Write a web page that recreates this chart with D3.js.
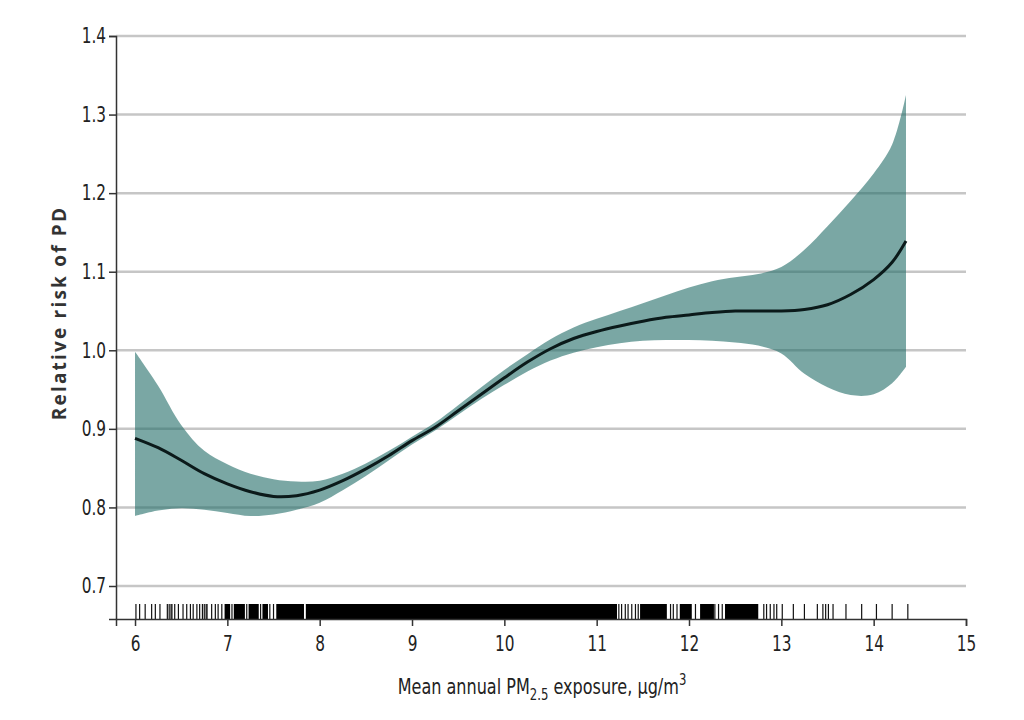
<!DOCTYPE html>
<html>
<head>
<meta charset="utf-8">
<script src="https://cdn.jsdelivr.net/npm/d3@7"></script>
<style>
  body { margin: 0; background: #fff; }
  svg { display: block; }
</style>
</head>
<body>
<svg id="chart" width="1024" height="720"></svg>
<script>
// exposure values (ug/m3) where the spline was read
const exposure = [6.0, 6.25, 6.5, 6.75, 7.0, 7.25, 7.5, 7.75, 8.0, 8.25, 8.5, 8.75, 9.0, 9.25, 9.5, 9.75,
  10.0, 10.25, 10.5, 10.75, 11.0, 11.25, 11.5, 11.75, 12.0, 12.25, 12.5, 12.75, 13.0, 13.25, 13.5, 13.75,
  14.0, 14.2, 14.35];
const relRisk = [0.888, 0.876, 0.860, 0.843, 0.830, 0.820, 0.814, 0.815, 0.822, 0.834, 0.849, 0.866, 0.885,
  0.902, 0.923, 0.944, 0.965, 0.985, 1.002, 1.015, 1.024, 1.031, 1.037, 1.042, 1.045, 1.048, 1.050, 1.050,
  1.050, 1.052, 1.058, 1.071, 1.090, 1.112, 1.139];
const upperCI = [0.998, 0.955, 0.905, 0.872, 0.855, 0.843, 0.836, 0.833, 0.834, 0.843, 0.856, 0.872, 0.890,
  0.908, 0.930, 0.953, 0.975, 0.995, 1.014, 1.029, 1.040, 1.050, 1.060, 1.070, 1.080, 1.088, 1.093, 1.097,
  1.106, 1.128, 1.158, 1.190, 1.225, 1.262, 1.325];
const lowerCI = [0.789, 0.796, 0.799, 0.797, 0.793, 0.789, 0.791, 0.797, 0.806, 0.822, 0.840, 0.860, 0.880,
  0.898, 0.918, 0.938, 0.956, 0.973, 0.987, 0.997, 1.004, 1.009, 1.012, 1.013, 1.013, 1.012, 1.010, 1.006,
  0.996, 0.970, 0.953, 0.943, 0.944, 0.958, 0.979];

// rug: single observations and stretches too dense to separate
const rugTicks = [6.01, 6.05, 6.11, 6.18, 6.22, 6.27, 6.35, 6.37, 6.39, 6.40, 6.43, 6.47, 6.52, 6.56, 6.60,
  6.63, 6.67, 6.70, 6.73, 6.75, 6.77, 6.78, 6.83, 6.87, 6.90, 6.94, 7.05, 7.21, 7.36, 7.46, 7.50,
  11.24, 11.27, 11.31, 11.34, 11.38, 11.42, 11.45, 11.80, 11.83, 11.87, 12.07, 12.28, 12.32, 12.36,
  12.81, 12.84, 12.88, 12.92, 12.95, 13.01, 13.13, 13.25, 13.39, 13.45, 13.48, 13.51, 13.56, 13.70,
  13.87, 14.03, 14.20, 14.37];
const rugDenseFrom = [6.97, 7.07, 7.23, 7.38, 7.53, 7.85, 11.47, 11.90, 12.12, 12.39];
const rugDenseTo   = [7.03, 7.19, 7.34, 7.44, 7.83, 11.22, 11.76, 12.03, 12.27, 12.75];

const xTicks = [6, 7, 8, 9, 10, 11, 12, 13, 14, 15];
const yTicks = [0.7, 0.8, 0.9, 1.0, 1.1, 1.2, 1.3, 1.4];

const svg = d3.select("#chart");
const margin = {top: 36, right: 58, bottom: 101, left: 116};
const width = 1024, height = 720;
const tickFont = "'DejaVu Sans', sans-serif";
const squeeze = 0.73; // the original uses a narrow face

const x = d3.scaleLinear().domain([5.794, 15]).range([margin.left, width - margin.right]);
const y = d3.scaleLinear().domain([0.658, 1.4]).range([height - margin.bottom, margin.top]);

const data = exposure.map((e, i) => ({x: e, rr: relRisk[i], lo: lowerCI[i], hi: upperCI[i]}));

// grid lines
svg.append("g")
  .selectAll("line")
  .data(yTicks)
  .join("line")
    .attr("x1", margin.left)
    .attr("x2", width - margin.right)
    .attr("y1", d => y(d))
    .attr("y2", d => y(d))
    .attr("stroke", "#c6c6c6")
    .attr("stroke-width", 2.5);

// confidence band
svg.append("path")
  .datum(data)
  .attr("fill", "#216c67")
  .attr("fill-opacity", 0.6)
  .attr("d", d3.area()
    .curve(d3.curveCatmullRom)
    .x(d => x(d.x))
    .y0(d => y(d.lo))
    .y1(d => y(d.hi)));

// spline
svg.append("path")
  .datum(data)
  .attr("fill", "none")
  .attr("stroke", "#0b1a1a")
  .attr("stroke-width", 3)
  .attr("d", d3.line()
    .curve(d3.curveCatmullRom)
    .x(d => x(d.x))
    .y(d => y(d.rr)));

// rug
const rugTop = height - margin.bottom - 15;
svg.append("g")
  .selectAll("line")
  .data(rugTicks)
  .join("line")
    .attr("x1", d => x(d))
    .attr("x2", d => x(d))
    .attr("y1", rugTop)
    .attr("y2", height - margin.bottom)
    .attr("stroke", "#111")
    .attr("stroke-width", 1.2);
svg.append("g")
  .selectAll("rect")
  .data(rugDenseFrom.map((d, i) => [d, rugDenseTo[i]]))
  .join("rect")
    .attr("x", d => x(d[0]))
    .attr("width", d => x(d[1]) - x(d[0]))
    .attr("y", rugTop)
    .attr("height", 15)
    .attr("fill", "#000");

// axes
const xAxis = svg.append("g")
  .attr("transform", `translate(0,${height - margin.bottom})`)
  .call(d3.axisBottom(x).tickValues(xTicks).tickFormat(d3.format("d")).tickSizeOuter(0).tickSize(7).tickPadding(10));
const yAxis = svg.append("g")
  .attr("transform", `translate(${margin.left},0)`)
  .call(d3.axisLeft(y).tickValues(yTicks).tickFormat(d3.format(".1f")).tickSizeOuter(0).tickSize(7).tickPadding(3));

[xAxis, yAxis].forEach(g => {
  g.select(".domain").attr("stroke", "#333").attr("stroke-width", 1.5);
  g.selectAll(".tick line").attr("stroke", "#333").attr("stroke-width", 1.5);
  g.selectAll(".tick text")
    .attr("fill", "#222")
    .style("font-family", tickFont)
    .style("font-size", "21px");
});
xAxis.selectAll(".tick text").attr("transform", `scale(${squeeze},1)`);
yAxis.selectAll(".tick text")
  .attr("x", -10 / squeeze)
  .attr("transform", `scale(${squeeze},1)`);

// axis titles
const xTitle = svg.append("text")
  .attr("transform", `translate(542,694) scale(${squeeze},1)`)
  .attr("text-anchor", "middle")
  .attr("fill", "#222")
  .style("font-family", tickFont)
  .style("font-size", "22px");
xTitle.append("tspan").text("Mean annual PM");
xTitle.append("tspan").attr("dy", 6).style("font-size", "16px").text("2.5");
xTitle.append("tspan").attr("dy", -6).text(" exposure, μg/m");
xTitle.append("tspan").attr("dy", -9).style("font-size", "16px").text("3");

svg.append("text")
  .attr("transform", "translate(66,313) rotate(-90)")
  .attr("text-anchor", "middle")
  .attr("fill", "#333")
  .style("font-family", "'Open Sans', 'DejaVu Sans', sans-serif")
  .style("font-weight", "bold")
  .style("font-size", "19px")
  .style("letter-spacing", "2.2px")
  .text("Relative risk of PD");
</script>
</body>
</html>
